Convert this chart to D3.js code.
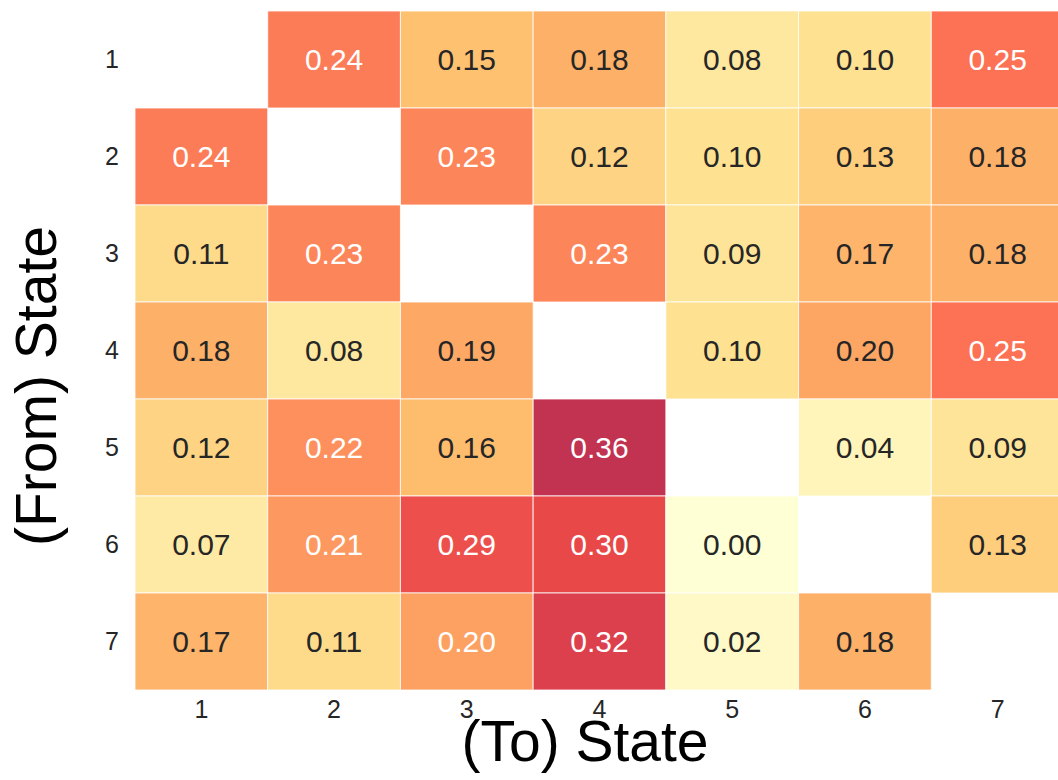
<!DOCTYPE html>
<html>
<head>
<meta charset="utf-8">
<script src="https://cdn.jsdelivr.net/npm/d3@7/dist/d3.min.js"></script>
<style>
  body { margin: 0; background: #fff; }
  svg { display: block; font-family: "Liberation Sans", Arial, sans-serif; }
</style>
</head>
<body>
<svg id="chart" width="1058" height="780"></svg>
<script>
// states, rows = from, columns = to (null = diagonal, not drawn)
const states = [1, 2, 3, 4, 5, 6, 7];
const row1 = [null, 0.24, 0.15, 0.18, 0.08, 0.10, 0.25];
const row2 = [0.24, null, 0.23, 0.12, 0.10, 0.13, 0.18];
const row3 = [0.11, 0.23, null, 0.23, 0.09, 0.17, 0.18];
const row4 = [0.18, 0.08, 0.19, null, 0.10, 0.196, 0.25];
const row5 = [0.12, 0.22, 0.16, 0.36, null, 0.04, 0.09];
const row6 = [0.07, 0.21, 0.29, 0.30, 0.00, null, 0.13];
const row7 = [0.17, 0.11, 0.202, 0.32, 0.02, 0.18, null];
const rows = [row1, row2, row3, row4, row5, row6, row7];

const xAxisLabel = '(To) State';
const yAxisLabel = '(From) State';

const svg = d3.select('#chart');
const margin = {top: 11, left: 135, right: -6, bottom: 90};
const width = 1058 - margin.left - margin.right;
const height = 780 - margin.top - margin.bottom;

const chart = svg.append('g')
  .attr('transform', `translate(${margin.left}, ${margin.top})`);

const xScale = d3.scaleBand().domain(states).range([0, width]);
const yScale = d3.scaleBand().domain(states).range([0, height]);

// matplotlib YlOrRd stops, vmin 0 / vmax 0.4
const ylorrd = ['#ffffcc', '#ffeda0', '#fed976', '#feb24c', '#fd8d3c', '#fc4e2a', '#e31a1c', '#bd0026', '#800026'];
const colour = d3.scaleLinear()
  .domain(d3.range(9).map(i => 0.4 * i / 8))
  .range(ylorrd)
  .interpolate(d3.interpolateRgb)
  .clamp(true);

function luminance(c) {
  const rgb = d3.rgb(c);
  const f = v => {
    v = v / 255;
    return v <= 0.03928 ? v / 12.92 : Math.pow((v + 0.055) / 1.055, 2.4);
  };
  return 0.2126 * f(rgb.r) + 0.7152 * f(rgb.g) + 0.0722 * f(rgb.b);
}

const cells = [];
rows.forEach((r, i) => r.forEach((v, j) => {
  if (v !== null) cells.push({from: states[i], to: states[j], value: v});
}));

chart.selectAll('.cell')
  .data(cells)
  .enter()
  .append('rect')
  .attr('class', 'cell')
  .attr('x', d => xScale(d.to))
  .attr('y', d => yScale(d.from))
  .attr('width', xScale.bandwidth())
  .attr('height', yScale.bandwidth())
  .attr('fill', d => colour(d.value))
  .attr('fill-opacity', 0.8)
  .attr('stroke', '#fff')
  .attr('stroke-opacity', 0.8)
  .attr('stroke-width', 1);

chart.selectAll('.annot')
  .data(cells)
  .enter()
  .append('text')
  .attr('class', 'annot')
  .attr('x', d => xScale(d.to) + xScale.bandwidth() / 2)
  .attr('y', d => yScale(d.from) + yScale.bandwidth() / 2)
  .attr('text-anchor', 'middle')
  .attr('dy', '0.35em')
  .style('font-size', '30px')
  .style('fill', d => luminance(colour(d.value)) > 0.408 ? '#262626' : '#ffffff')
  .text(d => d3.format('.2f')(d.value));

// axes
const xAxisG = chart.append('g')
  .attr('transform', `translate(0, ${height})`)
  .call(d3.axisBottom(xScale).tickSize(0).tickPadding(10));
const yAxisG = chart.append('g')
  .call(d3.axisLeft(yScale).tickSize(0).tickPadding(16));

[xAxisG, yAxisG].forEach(g => {
  g.select('.domain').remove();
  g.selectAll('text')
    .style('font-size', '25px')
    .style('font-family', '"Liberation Sans", Arial, sans-serif')
    .attr('fill', '#262626');
});

svg.append('text')
  .attr('x', 585)
  .attr('y', 761)
  .attr('text-anchor', 'middle')
  .style('font-size', '57px')
  .attr('fill', '#000')
  .text(xAxisLabel);

svg.append('text')
  .attr('transform', 'translate(56, 386) rotate(-90)')
  .attr('text-anchor', 'middle')
  .style('font-size', '57px')
  .attr('fill', '#000')
  .text(yAxisLabel);
</script>
</body>
</html>
